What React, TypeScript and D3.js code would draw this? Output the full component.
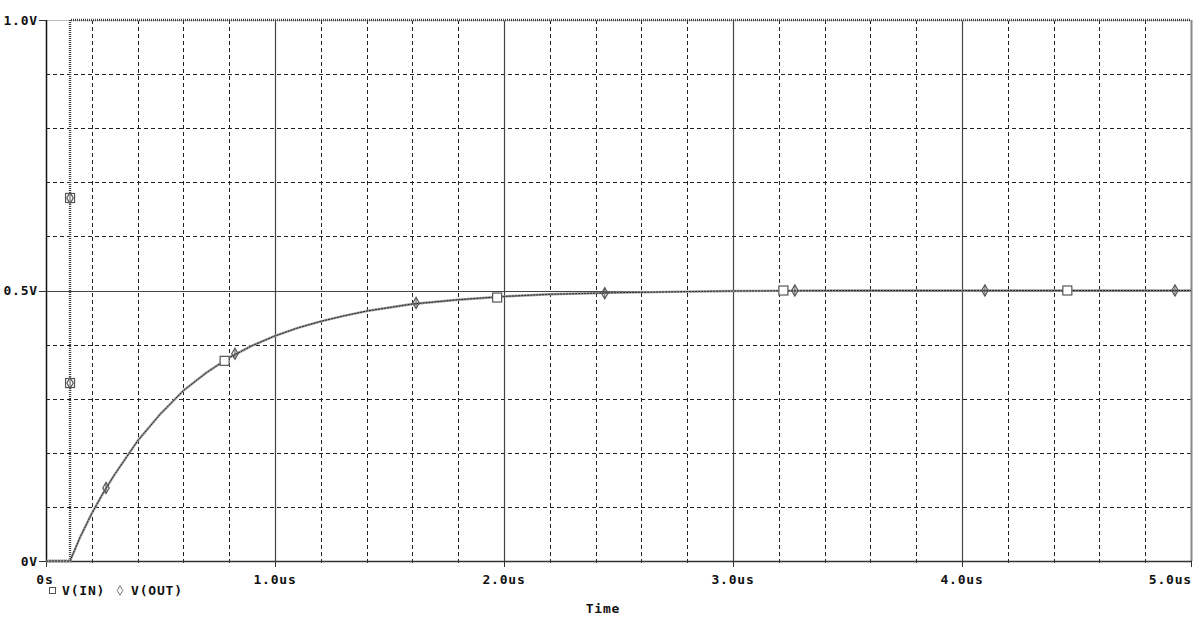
import React from "react";
import * as d3 from "d3";

// time in microseconds, voltages in volts
const curveTime = [0, 0.1, 0.105, 0.15, 0.2, 0.25, 0.3, 0.4, 0.5, 0.6, 0.7, 0.8, 0.9, 1.0, 1.1, 1.2, 1.3, 1.4, 1.6, 1.8, 2.0, 2.2, 2.5, 2.8, 3.0, 3.5, 4.0, 4.5, 5.0];
const vInValues = [0, 0, 0, 0.045, 0.088, 0.126, 0.16, 0.222, 0.272, 0.315, 0.348, 0.376, 0.398, 0.416, 0.431, 0.443, 0.453, 0.462, 0.475, 0.483, 0.489, 0.493, 0.496, 0.498, 0.499, 0.5, 0.5, 0.5, 0.5];
const vOutValues = [0, 0, 0, 0.045, 0.088, 0.126, 0.16, 0.222, 0.272, 0.315, 0.348, 0.376, 0.398, 0.416, 0.431, 0.443, 0.453, 0.462, 0.475, 0.483, 0.489, 0.493, 0.496, 0.498, 0.499, 0.5, 0.5, 0.5, 0.5];

// pulse edge drawn as a dotted trace
const pulseTime = [0, 0.105, 0.105, 5.0];
const pulseValues = [0, 0, 1.0, 1.0];

// marker positions
const squareMarkerTime = [0.105, 0.105, 0.78, 1.97, 3.22, 4.46];
const squareMarkerValues = [0.329, 0.671, 0.37, 0.487, 0.5, 0.5];
const diamondMarkerTime = [0.105, 0.105, 0.262, 0.825, 1.616, 2.44, 3.27, 4.1, 4.93];
const diamondMarkerValues = [0.329, 0.671, 0.135, 0.383, 0.477, 0.495, 0.5, 0.5, 0.5];

const xMajorTicks = [0, 1, 2, 3, 4, 5];
const xTickLabels = ["0s", "1.0us", "2.0us", "3.0us", "4.0us", "5.0us"];
const xMinorTicks = d3.range(0, 5.0001, 0.2);
const yMajorTicks = [0, 0.5, 1.0];
const yTickLabels = ["0V", "0.5V", "1.0V"];
const yMinorTicks = d3.range(0.1, 1.0, 0.1);

const W = 1204;
const H = 628;
const L = 46;
const R = 1191;
const T = 20;
const B = 561;

const FONT = "'DejaVu Sans Mono', 'Liberation Mono', monospace";

export default function App() {
  const x = d3.scaleLinear().domain([0, 5]).range([L, R]);
  const y = d3.scaleLinear().domain([0, 1]).range([B, T]);

  const mkLinear = (ts: number[], vs: number[]) =>
    d3
      .line<number>()
      .x((t) => x(t))
      .y((_, i) => y(vs[i]))(ts) as string;

  const diamond = d3.symbol().type(d3.symbolDiamond).size(36)() as string;

  const textStyle: React.CSSProperties = {
    fontFamily: FONT,
    fontWeight: "bold",
    fontSize: 13,
    letterSpacing: 0.8,
    fill: "#111",
  };

  return (
    <svg
      width={W}
      height={H}
      viewBox={`0 0 ${W} ${H}`}
      style={{ position: "absolute", left: 0, top: 0, background: "#fff" }}
    >
      {/* minor dashed grid */}
      <g stroke="#222" strokeWidth={1} strokeDasharray="4,3" fill="none">
        {xMinorTicks
          .filter((t) => Math.abs(t - Math.round(t)) > 0.01)
          .map((t, i) => (
            <line key={"vx" + i} x1={Math.round(x(t)) + 0.5} x2={Math.round(x(t)) + 0.5} y1={T} y2={B} />
          ))}
        {yMinorTicks
          .filter((v) => Math.abs(v - 0.5) > 0.01)
          .map((v, i) => (
            <line key={"hy" + i} x1={L} x2={R} y1={Math.round(y(v)) + 0.5} y2={Math.round(y(v)) + 0.5} />
          ))}
      </g>
      {/* major solid grid */}
      <g stroke="#444" strokeWidth={1.2} fill="none">
        {xMajorTicks.slice(1, -1).map((t, i) => (
          <line key={"mx" + i} x1={Math.round(x(t)) + 0.5} x2={Math.round(x(t)) + 0.5} y1={T} y2={B} />
        ))}
        <line x1={L} x2={R} y1={Math.round(y(0.5)) + 0.5} y2={Math.round(y(0.5)) + 0.5} />
      </g>
      {/* frame */}
      <line x1={R + 0.5} x2={R + 0.5} y1={T} y2={B} stroke="#888" strokeWidth={2} />
      <line x1={L} x2={R} y1={T + 0.5} y2={T + 0.5} stroke="#bbb" strokeWidth={1} />
      <line x1={L} x2={R + 1} y1={B + 0.5} y2={B + 0.5} stroke="#333" strokeWidth={1.3} />
      <line x1={L + 0.5} x2={L + 0.5} y1={T} y2={B + 1} stroke="#111" strokeWidth={1.5} />

      {/* y ticks and labels */}
      {yMajorTicks.map((v, i) => (
        <g key={"yt" + i}>
          <line x1={L - 7} x2={L} y1={Math.round(y(v)) + 0.5} y2={Math.round(y(v)) + 0.5} stroke="#333" strokeWidth={1} />
          <text x={38} y={y(v)} textAnchor="end" dominantBaseline="central" style={textStyle}>
            {yTickLabels[i]}
          </text>
        </g>
      ))}

      {/* x ticks */}
      {xMinorTicks.map((t, i) => (
        <line key={"xm" + i} x1={Math.round(x(t)) + 0.5} x2={Math.round(x(t)) + 0.5} y1={B} y2={B + 2} stroke="#333" strokeWidth={1} />
      ))}
      {xMajorTicks.map((t, i) => (
        <g key={"xt" + i}>
          <line x1={Math.round(x(t)) + 0.5} x2={Math.round(x(t)) + 0.5} y1={B} y2={B + 6} stroke="#333" strokeWidth={1} />
          <text
            x={i === xMajorTicks.length - 1 ? R + 1 : i === 0 ? x(t) - 1 : x(t)}
            y={584}
            textAnchor={i === xMajorTicks.length - 1 ? "end" : "middle"}
            style={textStyle}
          >
            {xTickLabels[i]}
          </text>
        </g>
      ))}

      {/* traces */}
      <path d={mkLinear(pulseTime, pulseValues)} fill="none" stroke="#444" strokeWidth={2.4} strokeDasharray="1,1" />
      <path d={mkLinear(curveTime, vOutValues)} fill="none" stroke="#999" strokeWidth={2.4} strokeLinejoin="round" />
      <path d={mkLinear(curveTime, vInValues)} fill="none" stroke="#222" strokeWidth={1} strokeDasharray="2,1" />

      {/* markers */}
      {squareMarkerTime.map((t, i) => (
        <rect
          key={"sq" + i}
          x={x(t) - 4.5}
          y={y(squareMarkerValues[i]) - 4.5}
          width={9}
          height={9}
          fill="#fff"
          stroke="#555"
          strokeWidth={1.2}
        />
      ))}
      {diamondMarkerTime.map((t, i) => (
        <g key={"dm" + i} transform={`translate(${x(t)},${y(diamondMarkerValues[i])})`}>
          <path d={diamond} fill="none" stroke="#555" strokeWidth={1.2} />
          <line x1={0} x2={0} y1={-5} y2={5} stroke="#555" strokeWidth={1} />
        </g>
      ))}

      {/* legend */}
      <rect x={49.5} y={587.5} width={6} height={6} fill="#fff" stroke="#555" strokeWidth={1} />
      <text x={62} y={595} style={textStyle}>V(IN)</text>
      <path d={d3.symbol().type(d3.symbolDiamond).size(26)() as string} transform="translate(120,590.5)" fill="none" stroke="#777" strokeWidth={1} />
      <text x={131} y={595} style={textStyle}>V(OUT)</text>

      <text x={603} y={613} textAnchor="middle" style={textStyle}>
        Time
      </text>
    </svg>
  );
}
